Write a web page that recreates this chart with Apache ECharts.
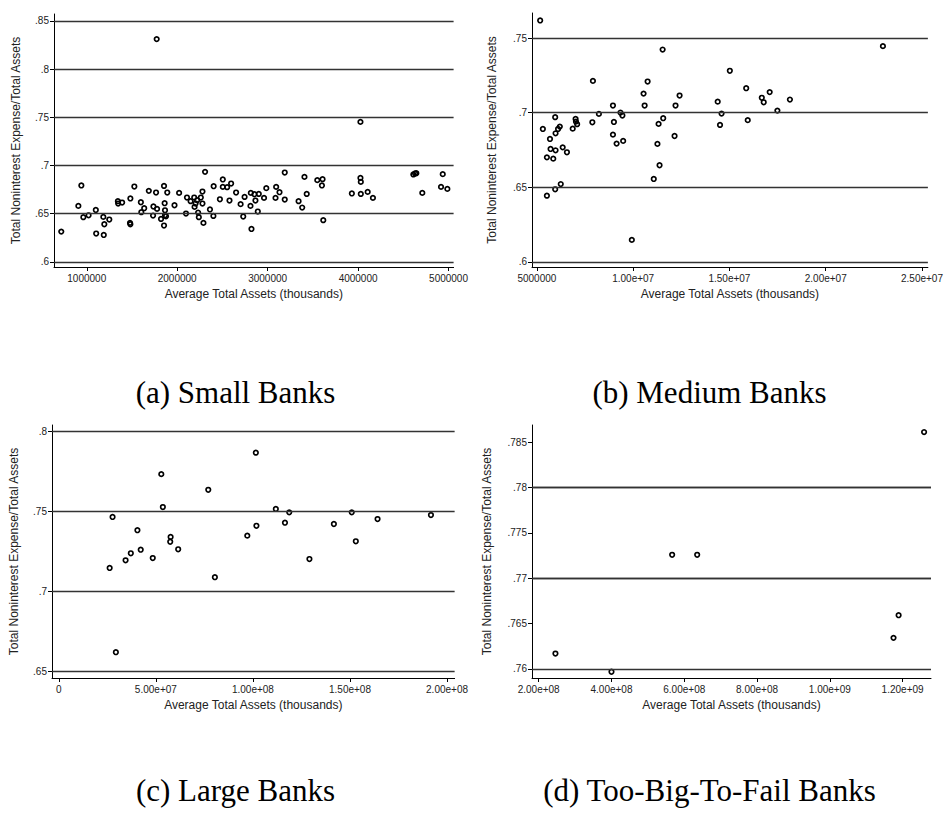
<!DOCTYPE html>
<html>
<head>
<meta charset="utf-8">
<script src="https://cdn.jsdelivr.net/npm/echarts@6/dist/echarts.min.js"></script>
<style>
  html, body { margin: 0; padding: 0; background: #fff; }
  .panel { position: absolute; overflow: hidden; }
</style>
</head>
<body>
<div id="panel-a" class="panel" style="left:0;top:0;width:471px;height:418px"></div>
<div id="panel-b" class="panel" style="left:473px;top:0;width:473px;height:418px"></div>
<div id="panel-c" class="panel" style="left:0;top:418px;width:471px;height:398px"></div>
<div id="panel-d" class="panel" style="left:473px;top:418px;width:473px;height:398px"></div>
<script>
// (a) small banks
var smallX = [718000, 940000, 907000, 962000, 1020000, 1100000, 1104000, 1183000, 1194000, 1188000,
  1249000, 1344000, 1347000, 1391000, 1482000, 1478000, 1482000, 1526000, 1598000, 1603000,
  1635000, 1686000, 1733000, 1737000, 1766000, 1777000, 1773000, 1821000, 1854000, 1854000,
  1861000, 1865000, 1865000, 1876000, 1890000, 1970000, 2021000, 2097000, 2108000, 2148000,
  2188000, 2192000, 2203000, 2220000, 2231000, 2239000, 2261000, 2279000, 2279000, 2290000,
  2308000, 2362000, 2400000, 2403000, 2472000, 2504000, 2504000, 2552000, 2578000, 2596000,
  2651000, 2701000, 2730000, 2745000, 2810000, 2814000, 2821000, 2854000, 2865000, 2891000,
  2902000, 2960000, 2985000, 3094000, 3087000, 3131000, 3189000, 3189000, 3342000, 3382000,
  3407000, 3432000, 3549000, 3600000, 3607000, 3615000, 3931000, 4026000, 4026000, 4030000,
  4030000, 4106000, 4164000, 4611000, 4630000, 4644000, 4710000, 4936000, 4917000, 4987000];
var smallY = [.6315, .6793, .6581, .6464, .6484, .6539, .6295, .6467, .6391, .628,
  .644, .663, .6606, .6616, .6658, .6405, .6391, .6782, .6619, .6516,
  .6557, .6737, .6481, .6575, .672, .655, .831, .6446, .6788, .6378,
  .6609, .6536, .6484, .6474, .672, .6588, .6716, .6502, .6668, .663,
  .6668, .6571, .6606, .664, .6512, .6464, .6668, .673, .6606, .6405,
  .6934, .6544, .6477, .6785, .665, .6855, .6778, .6775, .6637, .6813,
  .672, .6599, .6471, .6674, .6581, .6716, .6342, .6702, .6637, .6523,
  .6705, .6664, .6765, .6778, .6664, .6723, .6927, .6647, .663, .6564,
  .6882, .6705, .6848, .6793, .6858, .6433, .671, .7452, .6871, .683,
  .6705, .6726, .6664, .6907, .6917, .692, .6716, .691, .6778, .6757];
var smallXTicks = [1000000, 2000000, 3000000, 4000000, 5000000];
var smallXLabels = ['1000000', '2000000', '3000000', '4000000', '5000000'];
var smallYTicks = [.6, .65, .7, .75, .8, .85];
var smallYLabels = ['.6', '.65', '.7', '.75', '.8', '.85'];

// (b) medium banks
var mediumX = [5170000, 5310000, 5520000, 5520000, 5680000, 5710000, 5850000, 5950000, 5970000, 5970000,
  5950000, 6100000, 6190000, 6240000, 6340000, 6560000, 6860000, 7010000, 7030000, 7090000,
  7880000, 7910000, 8220000, 8950000, 9000000, 8950000, 9140000, 9340000, 9440000, 9480000,
  9930000, 10540000, 10595000, 10750000, 11070000, 11260000, 11320000, 11370000, 11530000, 11560000,
  12150000, 12200000, 12410000, 14390000, 14590000, 14510000, 15020000, 15870000, 15950000, 16680000,
  16780000, 17090000, 17490000, 18140000, 22970000];
var mediumY = [.7618, .6891, .6444, .6701, .6824, .6757, .6692, .697, .6862, .6748,
  .6487, .6891, .6907, .6522, .6768, .6735, .6893, .6958, .694, .6923,
  .6936, .7213, .6992, .7048, .6938, .6853, .6793, .7001, .6981, .6811,
  .6148, .7128, .7048, .7209, .6556, .6791, .6925, .6648, .7423, .6963,
  .6844, .7048, .7115, .7074, .6994, .6918, .7281, .7164, .695, .71,
  .707, .7138, .7014, .7088, .7446];
var mediumXTicks = [5000000, 10000000, 15000000, 20000000, 25000000];
var mediumXLabels = ['5000000', '1.00e+07', '1.50e+07', '2.00e+07', '2.50e+07'];
var mediumYTicks = [.6, .65, .7, .75];
var mediumYLabels = ['.6', '.65', '.7', '.75'];

// (c) large banks
var largeX = [26200000, 27700000, 29400000, 34400000, 37100000, 40500000, 42200000, 48400000, 52800000, 53600000,
  57600000, 57400000, 61500000, 77000000, 80400000, 97100000, 101500000, 101800000, 111800000, 116500000,
  118700000, 129100000, 141700000, 150900000, 153000000, 164200000, 191700000];
var largeY = [.7147, .7466, .662, .7195, .7239, .7383, .7261, .7209, .7734, .7528,
  .7341, .7311, .7264, .7636, .7089, .7349, .7868, .7411, .7516, .743,
  .7495, .7203, .7422, .7495, .7314, .7453, .7478];
var largeXTicks = [0, 50000000, 100000000, 150000000, 200000000];
var largeXLabels = ['0', '5.00e+07', '1.00e+08', '1.50e+08', '2.00e+08'];
var largeYTicks = [.65, .7, .75, .8];
var largeYLabels = ['.65', '.7', '.75', '.8'];

// (d) too-big-to-fail banks
var tbtfX = [246000000, 400000000, 566700000, 635500000, 1189000000, 1175000000, 1259000000];
var tbtfY = [.76168, .75967, .77258, .77258, .76591, .76341, .78613];
var tbtfXTicks = [200000000, 400000000, 600000000, 800000000, 1000000000, 1200000000];
var tbtfXLabels = ['2.00e+08', '4.00e+08', '6.00e+08', '8.00e+08', '1.00e+09', '1.20e+09'];
var tbtfYTicks = [.76, .765, .77, .775, .78, .785];
var tbtfYLabels = ['.76', '.765', '.77', '.775', '.78', '.785'];

var sans = 'Liberation Sans, Arial, Helvetica, sans-serif';
var serif = 'Liberation Serif, Times New Roman, serif';

function labelFor(ticks, labels) {
  return function (v) {
    for (var i = 0; i < ticks.length; i++) {
      if (Math.abs(ticks[i] - v) <= Math.abs(ticks[i]) * 1e-9 + 1e-12) return labels[i];
    }
    return '';
  };
}

function makePanel(id, cfg) {
  var chart = echarts.init(document.getElementById(id), null, { renderer: 'svg' });
  var data = cfg.x.map(function (v, i) { return [v, cfg.y[i]]; });
  chart.setOption({
    animation: false,
    title: {
      text: cfg.caption,
      left: 'center',
      top: cfg.captionTop,
      padding: 0,
      textStyle: { fontFamily: serif, fontSize: 31, fontWeight: 'normal', color: '#000' }
    },
    grid: cfg.grid,
    xAxis: {
      type: 'value',
      min: cfg.xMin,
      max: cfg.xMax,
      name: 'Average Total Assets (thousands)',
      nameLocation: 'middle',
      nameGap: 21,
      nameTextStyle: { fontFamily: sans, fontSize: 12, color: '#222' },
      axisLine: { onZero: false, lineStyle: { color: '#000', width: 1 } },
      axisTick: { customValues: cfg.xTicks, length: 4, lineStyle: { color: '#000' } },
      axisLabel: {
        customValues: cfg.xTicks,
        formatter: labelFor(cfg.xTicks, cfg.xLabels),
        margin: 6,
        fontFamily: sans, fontSize: 10, color: '#222'
      },
      splitLine: { show: false }
    },
    yAxis: {
      type: 'value',
      min: cfg.yMin,
      max: cfg.yMax,
      name: 'Total Noninterest Expense/Total Assets',
      nameLocation: 'middle',
      nameRotate: 90,
      nameGap: cfg.yNameGap,
      nameTextStyle: { fontFamily: sans, fontSize: 12, color: '#222' },
      axisLine: { show: true, onZero: false, lineStyle: { color: '#000', width: 1 } },
      axisTick: { show: true, customValues: cfg.yTicks, length: 4, lineStyle: { color: '#000' } },
      axisLabel: {
        customValues: cfg.yTicks,
        formatter: labelFor(cfg.yTicks, cfg.yLabels),
        margin: 5,
        fontFamily: sans, fontSize: 10, color: '#222'
      },
      splitLine: { show: false }
    },
    series: [{
      type: 'scatter',
      data: data,
      symbol: 'circle',
      symbolSize: 4.5,
      itemStyle: { color: 'rgba(0,0,0,0)', borderColor: '#000', borderWidth: 1.7, opacity: 1 },
      z: 3,
      markLine: {
        silent: true,
        symbol: ['none', 'none'],
        label: { show: false },
        lineStyle: { color: '#333', width: 1.3, type: 'solid' },
        data: cfg.yTicks.map(function (v) { return { yAxis: v }; })
      }
    }]
  });
}

makePanel('panel-a', {
  x: smallX, y: smallY, xTicks: smallXTicks, xLabels: smallXLabels,
  yTicks: smallYTicks, yLabels: smallYLabels,
  xMin: 637600, xMax: 5056000, yMin: .5948, yMax: .857,
  grid: { left: 54, top: 14, width: 405, height: 253 },
  yNameGap: 32, caption: '(a) Small Banks', captionTop: 377
});
makePanel('panel-b', {
  x: mediumX, y: mediumY, xTicks: mediumXTicks, xLabels: mediumXLabels,
  yTicks: mediumYTicks, yLabels: mediumYLabels,
  xMin: 4746000, xMax: 25305000, yMin: .59664, yMax: .7668,
  grid: { left: 59, top: 13, width: 404, height: 254 },
  yNameGap: 34, caption: '(b) Medium Banks', captionTop: 377
});
makePanel('panel-c', {
  x: largeX, y: largeY, xTicks: largeXTicks, xLabels: largeXLabels,
  yTicks: largeYTicks, yLabels: largeYLabels,
  xMin: -3500000, xMax: 203900000, yMin: .64587, yMax: .80413,
  grid: { left: 49, top: 7, width: 406, height: 253 },
  yNameGap: 32, caption: '(c) Large Banks', captionTop: 357
});
makePanel('panel-d', {
  x: tbtfX, y: tbtfY, xTicks: tbtfXTicks, xLabels: tbtfXLabels,
  yTicks: tbtfYTicks, yLabels: tbtfYLabels,
  xMin: 181600000, xMax: 1278000000, yMin: .75898, yMax: .78691,
  grid: { left: 59, top: 7, width: 399, height: 253 },
  yNameGap: 39, caption: '(d) Too-Big-To-Fail Banks', captionTop: 357
});
</script>
</body>
</html>
